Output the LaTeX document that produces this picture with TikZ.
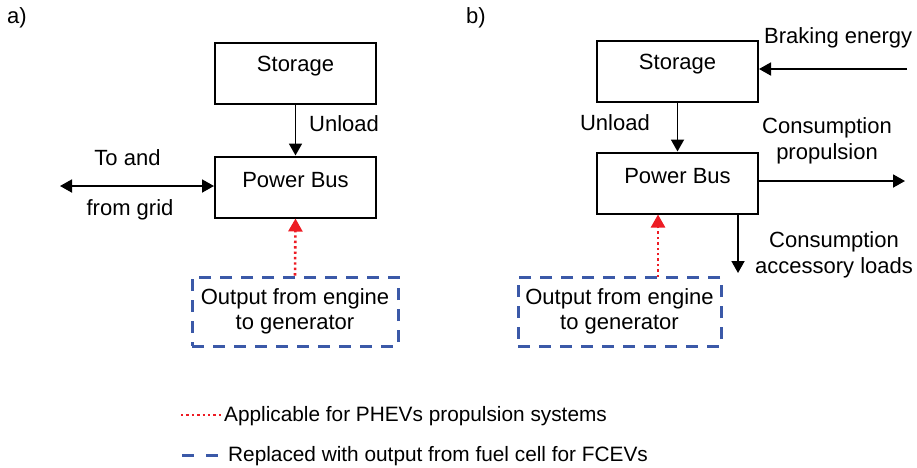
\documentclass[tikz,border=0pt]{standalone}
\usepackage{fontspec}
\setmainfont{Liberation Sans}
\usetikzlibrary{arrows.meta,calc}
\definecolor{dblue}{RGB}{59,89,168}
\definecolor{dred}{RGB}{237,28,36}
\begin{document}
\begin{tikzpicture}[x=1pt,y=-1pt,
  every node/.style={font=\fontsize{22}{25.5}\selectfont, inner sep=0pt},
  box/.style={draw, line width=2pt, minimum width=161pt, minimum height=61pt},
  boxlbl/.style={yshift=7pt},
  dbox/.style={draw=dblue, line width=3pt, dash pattern=on 12pt off 9pt, minimum width=206pt, minimum height=69pt, align=center},
  arr/.style={line width=1.8pt, -{Triangle[width=13pt,length=12pt]}},
  darr/.style={line width=1.8pt, {Triangle[width=13pt,length=12pt]}-{Triangle[width=13pt,length=12pt]}},
  rdot/.style={dred, line width=2.6pt, dash pattern=on 2.4pt off 3pt},
  rarr/.style={rdot, -{Triangle[width=14pt,length=13pt]}},
  txt/.style={align=center},
  legtxt/.style={font=\fontsize{20.8}{24}\selectfont}
]
\useasboundingbox (0,0) rectangle (917,467);

% ---------- panel a
\node (la) at (17,18) {a)};
\node[box, label={[boxlbl]center:Storage}] (sa) at (295.5,73.5) {};
\node[box, label={[boxlbl]center:Power Bus}] (pa) at (295.5,187) {};
\draw[arr] (sa.south) -- (pa.north);
\node[anchor=west] (ula) at (309,124) {Unload};
\coordinate (ga) at (60,186);
\draw[darr] (ga) -- (ga -| pa.west);
\node (toa) at (127.5,158) {To and};
\node (fga) at (130,210) {from grid};
\node[dbox] (da) at (295,311.5) {Output from engine\\to generator};
\draw[rarr] (da.north) -- (pa.south);

% ---------- panel b
\node (lb) at (476,18) {b)};
\node[box, label={[boxlbl]center:Storage}] (sb) at (677.5,71) {};
\node[box, label={[boxlbl]center:Power Bus}] (pb) at (677.5,183) {};
\draw[arr] (sb.south) -- (pb.north);
\node[anchor=east] (ulb) at (650,123) {Unload};
\coordinate (brk) at (907,69);
\draw[arr] (brk) -- (brk -| sb.east);
\node[anchor=west] (bet) at (764,38) {Braking energy};
\coordinate (prop) at (905,181);
\draw[arr] (prop -| pb.east) -- (prop);
\node[txt] (cpt) at (827,141) {Consumption\\propulsion};
\coordinate (acc) at (738,273);
\draw[arr] (acc |- pb.south) -- (acc);
\node[txt] (cat) at (834,255) {Consumption\\accessory loads};
\node[dbox, minimum width=203pt] (db) at (619.5,311.5) {Output from engine\\to generator};
\coordinate (rb) at (658,277);
\draw[rarr] (rb) -- (rb |- pb.south);

% ---------- legend
\coordinate (l1a) at (181,415);
\coordinate (l1b) at (223,415);
\draw[rdot, line width=2pt] (l1a) -- (l1b);
\node[anchor=west, legtxt] (lt1) at (224,416) {Applicable for PHEVs propulsion systems};
\coordinate (l2a) at (182,455);
\coordinate (l2b) at (219,455);
\draw[dblue, line width=3pt, dash pattern=on 12pt off 12pt] (l2a) -- (l2b);
\node[anchor=west, legtxt] (lt2) at (228,456) {Replaced with output from fuel cell for FCEVs};
\end{tikzpicture}
\end{document}
